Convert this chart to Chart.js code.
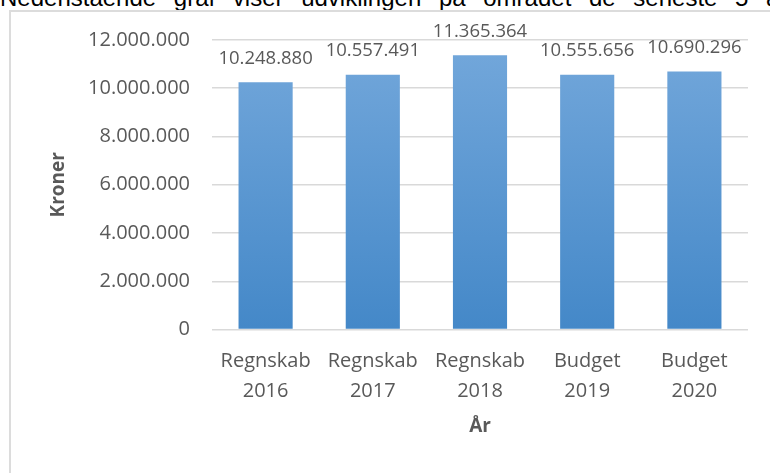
<!DOCTYPE html>
<html>
<head>
<meta charset="utf-8">
<script src="https://cdn.jsdelivr.net/npm/chart.js@4/dist/chart.umd.min.js"></script>
<style>
  html, body { margin: 0; padding: 0; background: #fff; overflow: hidden; }
  #wrap { position: relative; width: 770px; height: 473px; overflow: hidden; }
  #intro {
    position: absolute; left: 0; top: -14px; white-space: nowrap;
    font-family: "Liberation Sans", Arial, sans-serif; font-size: 24px; line-height: 24px;
    word-spacing: 11px; color: #000;
  }
  #frame {
    position: absolute; left: 9px; top: 10px; width: 820px; height: 520px;
    border: 2px solid #dcdcdc; box-sizing: border-box;
  }
  #chart { position: absolute; left: 0; top: 0; }
</style>
</head>
<body>
<div id="wrap">
  <div id="intro">Nedenstående graf viser udviklingen på området de seneste 5 år</div>
  <div id="frame"></div>
  <canvas id="chart" width="770" height="473"></canvas>
</div>
<script>
// kategorier (to linjer hver)
const categories = [
  ["Regnskab", "2016"],
  ["Regnskab", "2017"],
  ["Regnskab", "2018"],
  ["Budget", "2019"],
  ["Budget", "2020"],
];
const values = [10248880, 10557491, 11365364, 10555656, 10690296];
const yMax = 12000000;
const yStep = 2000000;

const GREY = "#595959";
const FONT = "'Open Sans', sans-serif";

function fmt(v) {
  return String(Math.round(v)).replace(/\B(?=(\d{3})+(?!\d))/g, ".");
}

// etiketter over søjlerne
const barLabels = {
  id: "barLabels",
  afterDatasetsDraw(chart) {
    const ctx = chart.ctx;
    const meta = chart.getDatasetMeta(0);
    ctx.save();
    ctx.font = "18.5px " + FONT;
    ctx.fillStyle = GREY;
    ctx.textAlign = "center";
    ctx.textBaseline = "middle";
    meta.data.forEach((bar, i) => {
      ctx.fillText(fmt(values[i]), bar.x, bar.y - 24);
    });
    ctx.restore();
  },
};

const ctx = document.getElementById("chart").getContext("2d");

new Chart(ctx, {
  type: "bar",
  data: {
    labels: categories,
    datasets: [
      {
        data: values,
        backgroundColor: (c) => {
          const area = c.chart.chartArea;
          if (!area) return "#5b9bd5";
          const g = c.chart.ctx.createLinearGradient(0, area.top + 15, 0, area.bottom);
          g.addColorStop(0, "#71a6da");
          g.addColorStop(1, "#4488c8");
          return g;
        },
        borderWidth: 0,
        barPercentage: 0.505,
        categoryPercentage: 1,
      },
    ],
  },
  options: {
    responsive: false,
    animation: false,
    layout: { padding: { top: 40, right: 22, left: 0, bottom: 0 } },
    plugins: {
      legend: { display: false },
      tooltip: { enabled: false },
    },
    scales: {
      x: {
        afterFit: (s) => { s.height = 143.5; },
        grid: { display: false, drawTicks: false },
        border: { display: false },
        ticks: {
          color: GREY,
          font: { family: FONT, size: 20, lineHeight: 1.5 },
          padding: 17,
          maxRotation: 0,
        },
        title: {
          display: true,
          text: "År",
          color: GREY,
          font: { family: FONT, size: 19, weight: "bold", lineHeight: 1.2 },
          padding: { top: 0, bottom: 35 },
        },
      },
      y: {
        min: 0,
        max: yMax,
        afterFit: (s) => { s.width = 212; },
        grid: { color: "#d9d9d9", lineWidth: 1.5, drawTicks: false },
        border: { display: false },
        ticks: {
          stepSize: yStep,
          color: GREY,
          font: { family: FONT, size: 20 },
          padding: 22,
          callback: (v) => fmt(v),
        },
        title: {
          display: true,
          text: "Kroner",
          color: GREY,
          font: { family: FONT, size: 19, weight: "bold", lineHeight: 1.2 },
          padding: { top: 47, bottom: 0 },
        },
      },
    },
  },
  plugins: [barLabels],
});
</script>
</body>
</html>
